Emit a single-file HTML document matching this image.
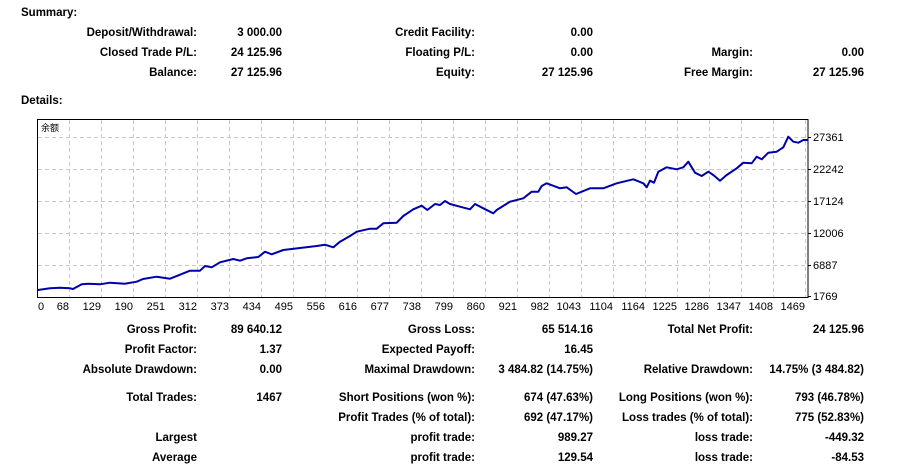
<!DOCTYPE html>
<html><head><meta charset="utf-8"><style>
body{margin:0;width:902px;height:466px;background:#fff;position:relative;overflow:hidden;font-family:"Liberation Sans","DejaVu Sans",sans-serif;}
.t{position:absolute;font-size:11.5px;font-weight:bold;line-height:14px;white-space:nowrap;color:#000}
.r{text-align:right}
svg{position:absolute;left:0;top:0}
</style></head><body>
<div class="t" style="left:21px;top:6px">Summary:</div>
<div class="t" style="left:21px;top:94px">Details:</div>

<div class="t r" style="right:705px;top:26px">Deposit/Withdrawal:</div>
<div class="t r" style="right:620px;top:26px">3 000.00</div>
<div class="t r" style="right:427px;top:26px">Credit Facility:</div>
<div class="t r" style="right:309px;top:26px">0.00</div>

<div class="t r" style="right:705px;top:46px">Closed Trade P/L:</div>
<div class="t r" style="right:620px;top:46px">24 125.96</div>
<div class="t r" style="right:427px;top:46px">Floating P/L:</div>
<div class="t r" style="right:309px;top:46px">0.00</div>
<div class="t r" style="right:149px;top:46px">Margin:</div>
<div class="t r" style="right:38px;top:46px">0.00</div>

<div class="t r" style="right:705px;top:66px">Balance:</div>
<div class="t r" style="right:620px;top:66px">27 125.96</div>
<div class="t r" style="right:427px;top:66px">Equity:</div>
<div class="t r" style="right:309px;top:66px">27 125.96</div>
<div class="t r" style="right:149px;top:66px">Free Margin:</div>
<div class="t r" style="right:38px;top:66px">27 125.96</div>

<div class="t r" style="right:705px;top:323px">Gross Profit:</div>
<div class="t r" style="right:620px;top:323px">89 640.12</div>
<div class="t r" style="right:427px;top:323px">Gross Loss:</div>
<div class="t r" style="right:309px;top:323px">65 514.16</div>
<div class="t r" style="right:149px;top:323px">Total Net Profit:</div>
<div class="t r" style="right:38px;top:323px">24 125.96</div>

<div class="t r" style="right:705px;top:343px">Profit Factor:</div>
<div class="t r" style="right:620px;top:343px">1.37</div>
<div class="t r" style="right:427px;top:343px">Expected Payoff:</div>
<div class="t r" style="right:309px;top:343px">16.45</div>

<div class="t r" style="right:705px;top:363px">Absolute Drawdown:</div>
<div class="t r" style="right:620px;top:363px">0.00</div>
<div class="t r" style="right:427px;top:363px">Maximal Drawdown:</div>
<div class="t r" style="right:309px;top:363px">3 484.82 (14.75%)</div>
<div class="t r" style="right:149px;top:363px">Relative Drawdown:</div>
<div class="t r" style="right:38px;top:363px">14.75% (3 484.82)</div>

<div class="t r" style="right:705px;top:391px">Total Trades:</div>
<div class="t r" style="right:620px;top:391px">1467</div>
<div class="t r" style="right:427px;top:391px">Short Positions (won %):</div>
<div class="t r" style="right:309px;top:391px">674 (47.63%)</div>
<div class="t r" style="right:149px;top:391px">Long Positions (won %):</div>
<div class="t r" style="right:38px;top:391px">793 (46.78%)</div>

<div class="t r" style="right:427px;top:411px">Profit Trades (% of total):</div>
<div class="t r" style="right:309px;top:411px">692 (47.17%)</div>
<div class="t r" style="right:149px;top:411px">Loss trades (% of total):</div>
<div class="t r" style="right:38px;top:411px">775 (52.83%)</div>

<div class="t r" style="right:705px;top:431px">Largest</div>
<div class="t r" style="right:427px;top:431px">profit trade:</div>
<div class="t r" style="right:309px;top:431px">989.27</div>
<div class="t r" style="right:149px;top:431px">loss trade:</div>
<div class="t r" style="right:38px;top:431px">-449.32</div>

<div class="t r" style="right:705px;top:451px">Average</div>
<div class="t r" style="right:427px;top:451px">profit trade:</div>
<div class="t r" style="right:309px;top:451px">129.54</div>
<div class="t r" style="right:149px;top:451px">loss trade:</div>
<div class="t r" style="right:38px;top:451px">-84.53</div>

<svg width="902" height="466" xmlns="http://www.w3.org/2000/svg">
<g stroke="#c8c8c8" stroke-width="1" stroke-dasharray="4,3" fill="none">
<path d="M38 137.5H807M38 169.5H807M38 201.5H807M38 233.5H807M38 265.5H807"/>
<path d="M69.5 120V297M101.5 120V297M133.5 120V297M165.5 120V297M197.5 120V297M229.5 120V297M261.5 120V297M293.5 120V297M325.5 120V297M357.5 120V297M389.5 120V297M421.5 120V297M453.5 120V297M485.5 120V297M517.5 120V297M549.5 120V297M581.5 120V297M613.5 120V297M645.5 120V297M677.5 120V297M709.5 120V297M741.5 120V297M773.5 120V297M805.5 120V297"/>
</g>
<rect x="37.5" y="119.5" width="770.5" height="178" fill="none" stroke="#000" stroke-width="1"/>
<g stroke="#000"><path d="M808 137.5h3M808 169.5h3M808 201.5h3M808 233.5h3M808 265.5h3M808 296.5h3"/></g>
<polyline fill="none" stroke="#0000aa" stroke-width="2" stroke-linejoin="round" points="38,290 50,288.3 60,287.7 70,288.3 73,289 81.7,284.3 88,283.7 100,284.3 110,282.7 125,283.7 136.7,281.7 143,279 156.7,276.7 170,278.7 180,274.7 190,270.7 200,270.7 205,266 211.7,267.3 220,262.3 233.3,259 240,260.7 246.7,258.3 258.3,257 265,251.7 271.7,254.3 283.3,250 300,248 316.7,246 325,244.7 333.3,247.3 340,241.7 350,236 356.7,231.7 370,228.7 376.7,228.7 383.3,223.3 396.7,222.7 403.3,216 413.3,209.3 421.7,205.7 427.3,210 435,204 440,205 445,201 450,204 460,206.7 470,209.3 475,204 483.3,208.3 493.3,213.3 496.7,210 510,201.7 523.3,198.3 531.7,191.7 538.3,191.7 541.7,186 546.7,183.3 560,188.3 566.7,187.3 576,194 590,188.3 603.3,188.3 616.7,183.3 633.3,179.3 643.3,183.3 646.7,187.3 650,180.7 654,182.7 658.3,171.7 666.7,167.3 676.7,169.3 683.3,167.3 688.3,161.7 695,172.7 701.7,176 708.3,171.7 713.3,175 720,180.7 726.7,175 736.7,168.3 743.3,162.7 751.7,163.3 756.7,156.7 761.7,159.3 768.3,152.7 776.7,151.7 783.3,147.3 788.3,136.7 793.3,141.7 798.3,142.7 803.3,140 808,140"/>
<g font-family="Liberation Sans, DejaVu Sans, sans-serif" font-size="11" fill="#000">
<text x="813" y="141">27361</text><text x="813" y="173">22242</text><text x="813" y="205">17124</text><text x="813" y="237">12006</text><text x="813" y="269">6887</text><text x="813" y="300">1769</text>
<text x="38" y="310">0</text>
<g text-anchor="end">
<text x="69" y="310">68</text><text x="101" y="310">129</text><text x="133" y="310">190</text><text x="165" y="310">251</text><text x="197" y="310">312</text><text x="229" y="310">373</text><text x="261" y="310">434</text><text x="293" y="310">495</text><text x="325" y="310">556</text><text x="357" y="310">616</text><text x="389" y="310">677</text><text x="421" y="310">738</text><text x="453" y="310">799</text><text x="485" y="310">860</text><text x="517" y="310">921</text><text x="549" y="310">982</text><text x="581" y="310">1043</text><text x="613" y="310">1104</text><text x="645" y="310">1164</text><text x="677" y="310">1225</text><text x="709" y="310">1286</text><text x="741" y="310">1347</text><text x="773" y="310">1408</text><text x="805" y="310">1469</text>
</g>
<text x="41" y="131" font-size="9" font-family="Liberation Sans, Noto Sans CJK SC, sans-serif">余额</text>
</g>
</svg>
</body></html>
